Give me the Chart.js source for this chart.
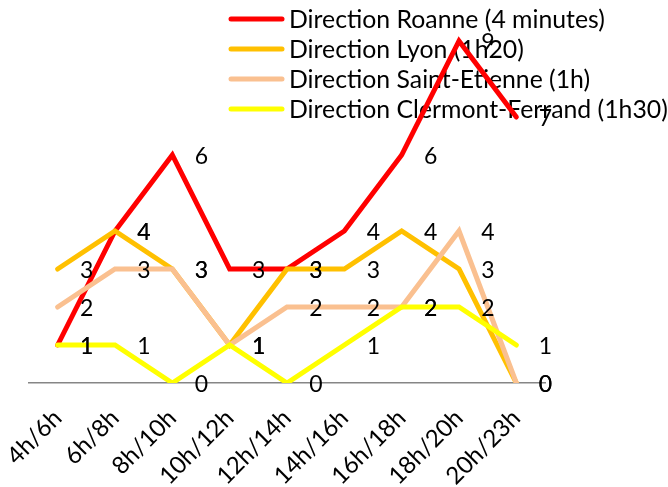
<!DOCTYPE html>
<html>
<head>
<meta charset="utf-8">
<script src="https://cdn.jsdelivr.net/npm/chart.js@4.4.1/dist/chart.umd.min.js"></script>
<style>
  html, body { margin: 0; padding: 0; background: #fff; }
  #wrap { width: 668px; height: 487px; position: relative; }
</style>
</head>
<body>
<div id="wrap"><canvas id="c"></canvas></div>
<script>
const categories = ['4h/6h', '6h/8h', '8h/10h', '10h/12h', '12h/14h', '14h/16h', '16h/18h', '18h/20h', '20h/23h'];
const roanne = [1, 4, 6, 3, 3, 4, 6, 9, 7];
const lyon = [3, 4, 3, 1, 3, 3, 4, 3, 0];
const saintEtienne = [2, 3, 3, 1, 2, 2, 2, 4, 0];
const clermont = [1, 1, 0, 1, 0, 1, 2, 2, 1];
const seriesNames = [
  'Direction Roanne (4 minutes)',
  'Direction Lyon (1h20)',
  'Direction Saint-Etienne (1h)',
  'Direction Clermont-Ferrand (1h30)'
];
const seriesColors = ['#FF0000', '#FFC000', '#FAC090', '#FFFF00'];

const FONT = 'Lato, "Open Sans", sans-serif';

// Legend drawn inside the plot, behind the lines
const legendPlugin = {
  id: 'innerLegend',
  beforeDatasetsDraw(chart) {
    const ctx = chart.ctx;
    ctx.save();
    ctx.font = '24.8px ' + FONT;
    ctx.textBaseline = 'middle';
    ctx.textAlign = 'left';
    ctx.lineCap = 'round';
    seriesNames.forEach((name, i) => {
      const y = 19 + i * 30;
      ctx.strokeStyle = seriesColors[i];
      ctx.lineWidth = 5;
      ctx.beginPath();
      ctx.moveTo(231, y);
      ctx.lineTo(282, y);
      ctx.stroke();
      ctx.fillStyle = '#000';
      ctx.fillText(name, 289, y + 1);
    });
    ctx.restore();
  }
};

// Value labels to the right of each point
const valueLabels = {
  id: 'valueLabels',
  afterDatasetsDraw(chart) {
    const ctx = chart.ctx;
    ctx.save();
    ctx.font = '23px ' + FONT;
    ctx.fillStyle = '#000';
    ctx.textAlign = 'center';
    ctx.textBaseline = 'middle';
    chart.data.datasets.forEach((ds, di) => {
      const meta = chart.getDatasetMeta(di);
      meta.data.forEach((pt, i) => {
        ctx.fillText(String(ds.data[i]), pt.x + 29, pt.y + 2);
      });
    });
    ctx.restore();
  }
};

const datasets = [roanne, lyon, saintEtienne, clermont].map((values, i) => ({
  label: seriesNames[i],
  data: values,
  borderColor: seriesColors[i],
  backgroundColor: seriesColors[i],
  borderWidth: 5,
  borderCapStyle: 'round',
  pointRadius: 0,
  pointHoverRadius: 0,
  tension: 0,
  fill: false,
  order: 4 - i
}));

new Chart(document.getElementById('c'), {
  type: 'line',
  data: { labels: categories, datasets },
  options: {
    responsive: true,
    maintainAspectRatio: false,
    animation: false,
    layout: { padding: { top: 3, right: 123, left: 29, bottom: 0 } },
    plugins: { legend: { display: false }, tooltip: { enabled: false } },
    scales: {
      x: {
        offset: true,
        grid: { display: false, drawTicks: false },
        border: { display: true, color: '#868686', width: 1.5 },
        afterFit(scale) {
          scale.height = 104;
          scale.paddingLeft = 0;
          scale.paddingRight = 0;
        },
        ticks: {
          maxRotation: 45,
          minRotation: 45,
          color: '#000',
          font: { family: FONT, size: 24 },
          padding: 21
        }
      },
      y: {
        display: false,
        min: 0,
        max: 10
      }
    }
  },
  plugins: [legendPlugin, valueLabels]
});
</script>
</body>
</html>
